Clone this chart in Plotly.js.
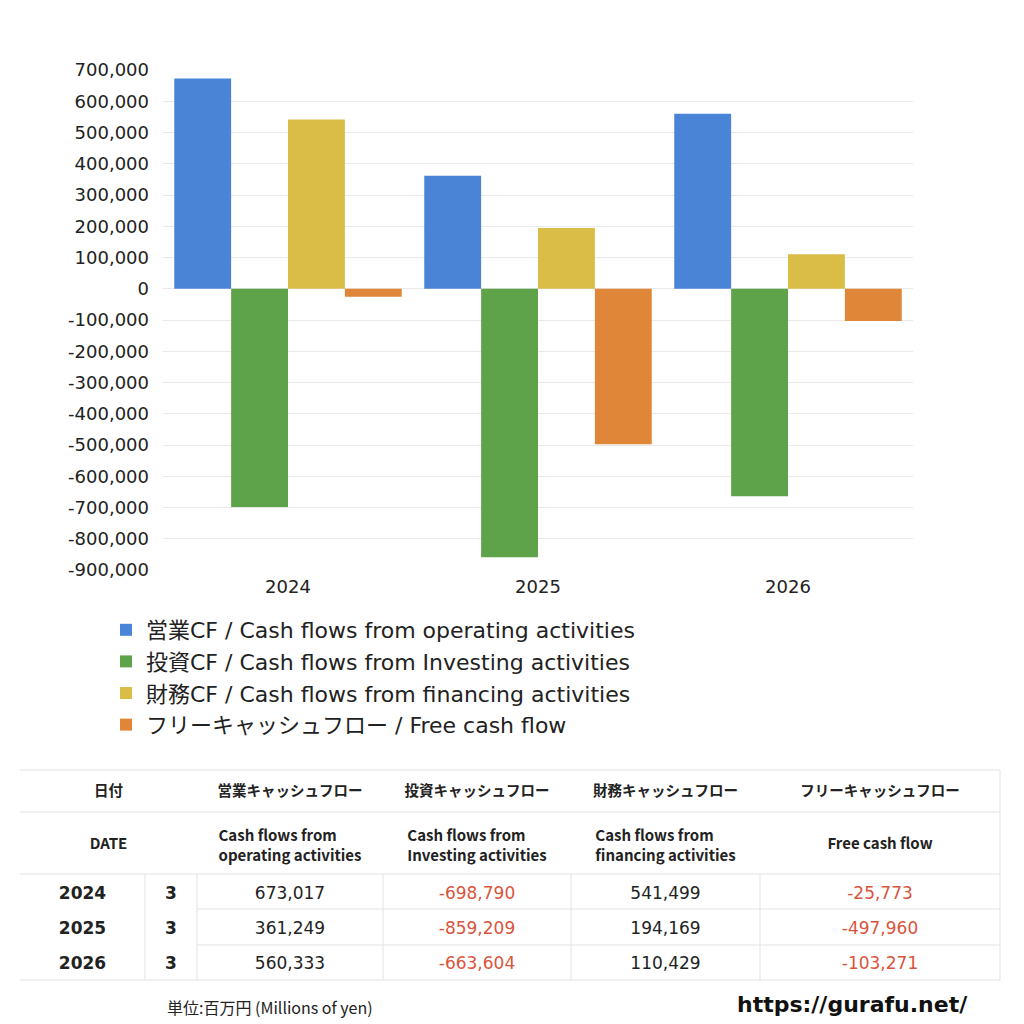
<!DOCTYPE html>
<html>
<head>
<meta charset="utf-8">
<script src="https://cdn.plot.ly/plotly-3.0.1.min.js"></script>
<style>html,body{margin:0;padding:0;background:#fff}</style>
</head>
<body>
<div id="chart" style="width:1024px;height:1024px"></div>
<script>
// ---- data ----
const years = ["2024", "2025", "2026"];
const months = ["3", "3", "3"];
const operatingCF = [673017, 361249, 560333];
const investingCF = [-698790, -859209, -663604];
const financingCF = [541499, 194169, 110429];
const freeCF = [-25773, -497960, -103271];

const seriesNames = [
  "営業CF / Cash flows from operating activities",
  "投資CF / Cash flows from Investing activities",
  "財務CF / Cash flows from financing activities",
  "フリーキャッシュフロー / Free cash flow"
];
const headerJP = ["日付", "営業キャッシュフロー", "投資キャッシュフロー", "財務キャッシュフロー", "フリーキャッシュフロー"];
const headerEN2 = ["", "Cash flows from<br>operating activities", "Cash flows from<br>Investing activities", "Cash flows from<br>financing activities", ""];
const headerEN1 = ["DATE", "", "", "", "Free cash flow"];
const yTickVals = [700000, 600000, 500000, 400000, 300000, 200000, 100000, 0, -100000, -200000, -300000, -400000, -500000, -600000, -700000, -800000, -900000];

// ---- helpers ----
const fmt = v => (v < 0 ? "-" : "") + Math.abs(v).toString().replace(/\B(?=(\d{3})+(?!\d))/g, ",");
const yTickText = yTickVals.map(fmt);
const colors = ["#4a84d6", "#5ea249", "#d9bd47", "#e08638"];
const red = "#d9553c", dark = "#222222";
const cjk = "'Noto Sans CJK JP', 'Noto Sans', sans-serif";
const latin = "'DejaVu Sans', 'Noto Sans CJK JP', sans-serif";
const W = 1024, H = 1024;
const px = x => x / W, py = y => 1 - y / H;
const clear = "rgba(0,0,0,0)";

const seriesVals = [operatingCF, investingCF, financingCF, freeCF];
const traces = seriesVals.map((vals, i) => ({
  type: "bar", x: years, y: vals, name: seriesNames[i],
  marker: { color: colors[i] }, hoverinfo: "skip"
}));

const hdrWidths = [177, 186, 188, 189, 240];
// header table: Japanese row + two-line English row
const headerTable = {
  type: "table",
  domain: { x: [px(20), px(1000)], y: [py(878), py(777)] },
  columnwidth: hdrWidths,
  header: {
    values: headerJP,
    height: 39, align: "center",
    font: { family: cjk, size: 14.5, color: dark, weight: 700 },
    fill: { color: clear }, line: { color: clear, width: 1 }
  },
  cells: {
    values: headerEN2.map(t => [t]),
    height: 58, align: "center",
    font: { family: cjk, size: 15, color: dark, weight: 700 },
    fill: { color: clear }, line: { color: clear, width: 1 }
  }
};
// single-line English header labels, vertically centred
const headerTable2 = {
  type: "table",
  domain: { x: [px(20), px(1000)], y: [py(872), py(830)] },
  columnwidth: hdrWidths,
  header: {
    values: headerEN1,
    height: 40, align: "center",
    font: { family: cjk, size: 15, color: dark, weight: 700 },
    fill: { color: clear }, line: { color: clear, width: 1 }
  },
  cells: { values: [], fill: { color: clear }, line: { color: clear } }
};

const cols = [years, months, operatingCF, investingCF, financingCF, freeCF];
const colText = cols.map((c, j) => c.map(v => j < 2 ? String(v) : fmt(v)));
const colColor = cols.map((c, j) => c.map(v => (j >= 2 && v < 0) ? red : dark));
const colWeight = cols.map((c, j) => j < 2 ? 700 : 400);
const dataTable = {
  type: "table",
  domain: { x: [px(20), px(1000)], y: [py(984), py(878)] },
  columnwidth: [125, 52, 186, 188, 189, 240],
  header: {
    values: colText.map(c => c[0]),
    height: 35, align: "center",
    font: { family: latin, size: 17, color: colColor.map(c => c[0]), weight: colWeight },
    fill: { color: clear }, line: { color: clear, width: 1 }
  },
  cells: {
    values: colText.map(c => c.slice(1)),
    height: 35, align: "center",
    font: { family: latin, size: 17, color: colColor.map(c => c.slice(1)), weight: colWeight },
    fill: { color: clear }, line: { color: clear, width: 1 }
  }
};

const lineC = "#e3e3e3";
const hl = (x0, x1, y) => ({ type: "line", xref: "paper", yref: "paper", x0: px(x0), x1: px(x1), y0: py(y), y1: py(y), line: { color: lineC, width: 1 }, layer: "above" });
const vl = (x, y0, y1) => ({ type: "line", xref: "paper", yref: "paper", x0: px(x), x1: px(x), y0: py(y0), y1: py(y1), line: { color: lineC, width: 1 }, layer: "above" });
const shapes = [
  hl(20, 1000, 770), hl(20, 1000, 812), hl(20, 1000, 874),
  hl(197, 1000, 909), hl(197, 1000, 945), hl(20, 1000, 980),
  vl(145, 874, 980), vl(197, 874, 980), vl(383, 874, 980), vl(571, 874, 980), vl(760, 874, 980),
  vl(1000, 770, 980)
];

const layout = {
  width: W, height: H,
  margin: { l: 0, r: 0, t: 0, b: 0 },
  paper_bgcolor: "#ffffff", plot_bgcolor: "#ffffff",
  font: { family: latin, color: dark },
  barmode: "group", bargap: 0.09, bargroupgap: 0,
  xaxis: {
    type: "category", domain: [px(163), px(913)],
    tickfont: { family: latin, size: 18, color: dark },
    showgrid: false, showline: false, ticks: "", zeroline: false, fixedrange: true,
    ticklabelstandoff: 4
  },
  yaxis: {
    domain: [py(570), py(70)], range: [-900000, 700000],
    tickvals: yTickVals, ticktext: yTickText,
    tickfont: { family: latin, size: 18, color: dark },
    gridcolor: "#e9e9e9", zeroline: true, zerolinecolor: "#e9e9e9", zerolinewidth: 1,
    ticks: "", ticklabelstandoff: 13, showline: false, fixedrange: true
  },
  showlegend: true,
  legend: {
    x: px(106), y: py(609), xanchor: "left", yanchor: "top",
    orientation: "v", font: { family: latin, size: 22, color: dark },
    tracegroupgap: 0, bgcolor: clear, itemclick: false, itemdoubleclick: false
  },
  shapes: shapes,
  annotations: [
    { text: "単位:百万円 (Millions of yen)", xref: "paper", yref: "paper", x: px(165), y: py(1007), xanchor: "left", yanchor: "middle", showarrow: false, font: { family: cjk, size: 16, color: dark } },
    { text: "https://gurafu.net/", xref: "paper", yref: "paper", x: px(970), y: py(1004), xanchor: "right", yanchor: "middle", showarrow: false, font: { family: latin, size: 22, color: "#111", weight: 700 } }
  ]
};

Plotly.newPlot("chart", [...traces, headerTable, headerTable2, dataTable], layout, { displayModeBar: false });
</script>
</body>
</html>
